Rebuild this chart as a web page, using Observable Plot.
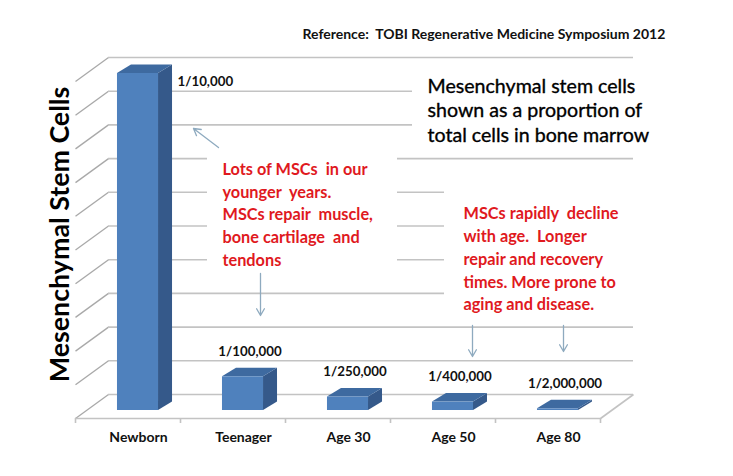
<!DOCTYPE html>
<html><head><meta charset="utf-8">
<script src="https://cdn.jsdelivr.net/npm/d3@7"></script>
<script src="https://cdn.jsdelivr.net/npm/@observablehq/plot@0.6"></script>
<style>body{margin:0;background:#fff;} svg{display:block;}</style>
</head><body><div id="chart"></div>
<script>
const categories = ["Newborn", "Teenager", "Age 30", "Age 50", "Age 80"];
const denominators = [10000, 100000, 250000, 400000, 2000000];
const valueLabels = ["1/10,000", "1/100,000", "1/250,000", "1/400,000", "1/2,000,000"];
const gridTicks = [0, 10, 20, 30, 40, 50, 60, 70, 80, 90, 100];
const yAxisTitle = "Mesenchymal Stem Cells";
const chartNote = "Mesenchymal stem cells\nshown as a proportion of\ntotal cells in bone marrow";
const youngNote = "Lots of MSCs  in our\nyounger  years.\nMSCs repair  muscle,\nbone cartilage  and\ntendons";
const oldNote = "MSCs rapidly  decline\nwith age.  Longer\nrepair and recovery\ntimes. More prone to\naging and disease.";
const sourceNote = "Reference:  TOBI Regenerative Medicine Symposium 2012";

// 3D projection helpers (data units)
const PXX = 105, PXY = 3.37;
const DX = 33 / PXX, DY = 24 / PXY;          // floor depth
const BZ = 1 / 3;                             // bar front plane
const BDX = 14 / PXX, BDY = 8.5 / PXY;        // bar depth
const BX0 = 0.295, BX1 = 0.686;

const bars = categories.map((c, i) => {
  const v = 1e6 / denominators[i];
  return {c, i, v, label: valueLabels[i],
    x1: i + BX0 + BZ * DX, x2: i + BX1 + BZ * DX, y0: BZ * DY};
});
const sides = bars.flatMap(b => [
  {z: b.c, x: b.x2, y1: b.y0, y2: b.y0 + b.v},
  {z: b.c, x: b.x2 + BDX, y1: b.y0 + BDY, y2: b.y0 + b.v + BDY}]);
const tops = bars.flatMap(b => [
  {z: b.c, y: b.y0 + b.v, x1: b.x1, x2: b.x2},
  {z: b.c, y: b.y0 + b.v + BDY, x1: b.x1 + BDX, x2: b.x2 + BDX}]);

const toX = px => (px - 75) / PXX, toY = py => (418 - py) / PXY;
const boxes = [
  {x1: toX(412), x2: toX(720), y1: toY(147), y2: toY(68)},
  {x1: toX(207), x2: toX(397), y1: toY(272), y2: toY(140)},
  {x1: toX(444), x2: toX(720), y1: toY(306), y2: toY(180)}
];
const arrows = [
  {x1: toX(218), y1: toY(147), x2: toX(193), y2: toY(128)},
  {x1: toX(260), y1: toY(273), x2: toX(260), y2: toY(315)},
  {x1: toX(472), y1: toY(325), x2: toX(472), y2: toY(356)},
  {x1: toX(563), y1: toY(325), x2: toX(563), y2: toY(351)}
];
const gridColor = "#c3c3c3";
const font = "Lato, 'Open Sans', sans-serif";

const plot = Plot.plot({
  width: 733, height: 476,
  marginTop: 0, marginRight: 0, marginBottom: 0, marginLeft: 0,
  x: {domain: [0, 5], range: [75, 600], axis: null},
  y: {domain: [0, 100], range: [418, 81], axis: null},
  style: {fontFamily: font, background: "white"},
  marks: [
    Plot.link(gridTicks, {x1: 0, y1: d => d, x2: DX, y2: d => d + DY, stroke: "#a9a9a9", strokeWidth: 1.3}),
    Plot.ruleY(gridTicks, {y: d => d + DY, x1: DX, x2: 5 + DX, stroke: gridColor, strokeWidth: 1.6}),
    Plot.ruleY([0], {x1: 0, x2: 5, stroke: gridColor, strokeWidth: 1.6}),
    Plot.link([0], {x1: 5, y1: 0, x2: 5 + DX, y2: DY, stroke: gridColor, strokeWidth: 1.6}),
    Plot.ruleX([0, 1, 2, 3, 4, 5], {y1: 0, y2: -5 / PXY, stroke: gridColor, strokeWidth: 1.6}),
    Plot.rect(boxes, {x1: "x1", x2: "x2", y1: "y1", y2: "y2", fill: "white"}),
    Plot.areaY(sides, {x: "x", y1: "y1", y2: "y2", z: "z", fill: "#35598a"}),
    Plot.areaX(tops, {y: "y", x1: "x1", x2: "x2", z: "z", fill: "#3e6aa0"}),
    Plot.rect(bars, {x1: "x1", x2: "x2", y1: "y0", y2: b => b.y0 + b.v, fill: "#4f81bd"}),
    Plot.text(bars.slice(1), {x: b => (b.x1 + b.x2 + BDX) / 2, y: b => b.y0 + b.v + BDY, dy: -17,
      text: "label", fontSize: 13.3, fontWeight: "bold", fill: "#111"}),
    Plot.text(bars.slice(0, 1), {x: b => b.x2 + BDX, y: b => b.y0 + b.v + BDY, dx: 5, dy: 17,
      text: "label", textAnchor: "start", fontSize: 13.3, fontWeight: "bold", fill: "#111"}),
    Plot.text(bars, {x: b => b.i + 0.6, y: 0, dy: 19, text: "c", fontSize: 14, fontWeight: "bold", fill: "#111"}),
    Plot.text([yAxisTitle], {x: toX(60), y: toY(234), rotate: -90, fontSize: 26.8, fontWeight: "bold", fill: "#000"}),
    Plot.text([chartNote], {x: toX(427), y: toY(109), textAnchor: "start", lineAnchor: "middle", lineHeight: 1.25, fontSize: 19.6, fill: "#000", stroke: "#000", strokeWidth: 0.35}),
    Plot.text([youngNote], {x: toX(222), y: toY(212.5), textAnchor: "start", lineAnchor: "middle", lineHeight: 1.39, fontSize: 16.3, fontWeight: "bold", fill: "#e0191e"}),
    Plot.text([oldNote], {x: toX(463), y: toY(257), textAnchor: "start", lineAnchor: "middle", lineHeight: 1.4, fontSize: 16.3, fontWeight: "bold", fill: "#e0191e"}),
    Plot.text([sourceNote], {x: toX(302), y: toY(34), textAnchor: "start", fontSize: 14, fontWeight: "bold", fill: "#111"}),
    Plot.arrow(arrows, {x1: "x1", y1: "y1", x2: "x2", y2: "y2", stroke: "#8eaabf", strokeWidth: 1.3, headLength: 9})
  ]
});
document.getElementById("chart").appendChild(plot);
</script></body></html>
